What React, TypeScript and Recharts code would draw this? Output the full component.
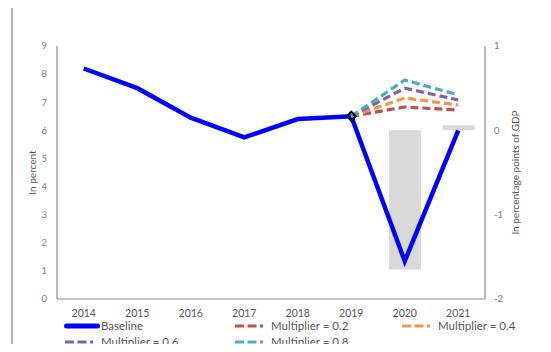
import {
  ComposedChart,
  Line,
  Bar,
  XAxis,
  YAxis,
  Legend,
} from "recharts";

// Growth paths, in percent
const years = ["2014", "2015", "2016", "2017", "2018", "2019", "2020", "2021"];
const baseline = [8.2, 7.5, 6.45, 5.75, 6.4, 6.5, 1.35, 6.0];
const multiplier02 = [null, null, null, null, null, 6.5, 6.83, 6.72];
const multiplier04 = [null, null, null, null, null, 6.5, 7.15, 6.9];
const multiplier06 = [null, null, null, null, null, 6.5, 7.5, 7.08];
const multiplier08 = [null, null, null, null, null, 6.5, 7.79, 7.26];

// Fiscal impulse, in percentage points of GDP
const fiscalGap = [null, null, null, null, null, null, -1.65, 0.06];

const leftTicks = [0, 1, 2, 3, 4, 5, 6, 7, 8, 9];
const rightTicks = [-2, -1, 0, 1];

const data = years.map((year, i) => ({
  year,
  baseline: baseline[i],
  m02: multiplier02[i],
  m04: multiplier04[i],
  m06: multiplier06[i],
  m08: multiplier08[i],
  gap: fiscalGap[i],
}));

const dashedSeries = [
  { key: "m02", name: "Multiplier = 0.2", color: "#C0504D" },
  { key: "m04", name: "Multiplier = 0.4", color: "#F79646" },
  { key: "m06", name: "Multiplier = 0.6", color: "#8064A2" },
  { key: "m08", name: "Multiplier = 0.8", color: "#4BACC6" },
];

const legendItems = [
  { name: "Baseline", color: "#0000FF", dashed: false },
  ...dashedSeries.map((s) => ({ name: s.name, color: s.color, dashed: true })),
];

const FONT = "Lato, 'Open Sans', sans-serif";
const AXIS_GRAY = "#8C8C8C";

function BaselineDot(props: any) {
  const { cx, cy, index } = props;
  if (index !== 5 || cx == null) return <g key={`d${index}`} />;
  const r = 4.5;
  return (
    <path
      key={`d${index}`}
      d={`M${cx},${cy - r} L${cx + r},${cy} L${cx},${cy + r} L${cx - r},${cy} Z`}
      fill="none"
      stroke="#000"
      strokeWidth={2}
    />
  );
}

function LegendBox() {
  return (
    <div
      style={{
        display: "grid",
        gridTemplateColumns: "170px 167px auto",
        paddingLeft: 64,
        marginTop: -2,
        fontFamily: FONT,
        fontSize: 11.5,
        lineHeight: "16px",
        color: "#595959",
        textAlign: "left",
      }}
    >
      {legendItems.map((item) => (
        <div
          key={item.name}
          style={{ height: 16, display: "flex", alignItems: "center", whiteSpace: "nowrap" }}
        >
          <svg width={36} height={8} style={{ marginRight: 1 }}>
            {item.dashed ? (
              <line
                x1={1}
                y1={4}
                x2={34}
                y2={4}
                stroke={item.color}
                strokeWidth={3}
                strokeDasharray="9 3.5 9 3.5 3 10"
              />
            ) : (
              <line
                x1={2.5}
                y1={4}
                x2={33.5}
                y2={4}
                stroke={item.color}
                strokeWidth={5}
                strokeLinecap="round"
              />
            )}
          </svg>
          <span>{item.name}</span>
        </div>
      ))}
    </div>
  );
}

export default function App() {
  return (
    <div style={{ position: "relative", width: 551, height: 352, margin: -8, background: "#fff" }}>
      {/* outer frame around the whole figure */}
      <div
        style={{
          position: "absolute",
          left: 11,
          top: 4,
          width: 538,
          height: 345,
          outline: "2px solid #B2B2B2",
          outlineOffset: -2,
        }}
      />
      <div style={{ position: "absolute", left: 0, top: 0 }}>
        <ComposedChart
          width={551}
          height={352}
          data={data}
          margin={{ top: 46, right: 0, bottom: 0, left: 0 }}
        >
          <XAxis
            dataKey="year"
            height={21}
            tickLine={false}
            tickSize={0}
            tickMargin={11}
            axisLine={{ stroke: AXIS_GRAY, strokeWidth: 1.2 }}
            tick={{ fill: "#595959", fontSize: 10.5, fontFamily: FONT }}
            interval={0}
          />
          <XAxis
            xAxisId="top"
            dataKey="year"
            orientation="top"
            height={0}
            tick={false}
            tickLine={false}
            axisLine={{ stroke: AXIS_GRAY, strokeWidth: 1.2 }}
          />
          <YAxis
            yAxisId="left"
            width={57}
            domain={[0, 9]}
            ticks={leftTicks}
            interval={0}
            tickLine={false}
            tickSize={0}
            tickMargin={10}
            axisLine={{ stroke: AXIS_GRAY, strokeWidth: 1.2 }}
            tick={{ fill: "#808080", fontSize: 9.5, fontFamily: FONT }}
            label={{
              value: "In percent",
              angle: -90,
              position: "insideLeft",
              offset: 32,
              style: { textAnchor: "middle", fill: "#595959", fontSize: 10, fontFamily: FONT },
            }}
          />
          <YAxis
            yAxisId="right"
            orientation="right"
            width={66}
            domain={[-2, 1]}
            ticks={rightTicks}
            interval={0}
            tickLine={false}
            tickSize={0}
            tickMargin={9}
            axisLine={{ stroke: AXIS_GRAY, strokeWidth: 1.2 }}
            tick={{ fill: "#808080", fontSize: 9.5, fontFamily: FONT }}
            label={{
              value: "In percentage points of GDP",
              angle: -90,
              position: "insideRight",
              offset: 36,
              style: { textAnchor: "middle", fill: "#595959", fontSize: 10, fontFamily: FONT },
            }}
          />
          <Legend
            verticalAlign="bottom"
            height={32}
            wrapperStyle={{ left: 0, width: 551 }}
            content={() => <LegendBox />}
          />
          <Bar
            yAxisId="right"
            dataKey="gap"
            name="Fiscal impulse"
            fill="#D9D9D9"
            barSize={32}
            isAnimationActive={false}
          />
          <Line
            yAxisId="left"
            dataKey="baseline"
            name="Baseline"
            stroke="#0000FF"
            strokeWidth={4.5}
            dot={BaselineDot}
            activeDot={false}
            isAnimationActive={false}
          />
          {dashedSeries.map((s) => (
            <Line
              key={s.key}
              yAxisId="left"
              dataKey={s.key}
              name={s.name}
              stroke={s.color}
              strokeWidth={3.2}
              strokeDasharray="8 4"
              dot={false}
              activeDot={false}
              connectNulls={false}
              isAnimationActive={false}
            />
          ))}
        </ComposedChart>
      </div>
    </div>
  );
}
